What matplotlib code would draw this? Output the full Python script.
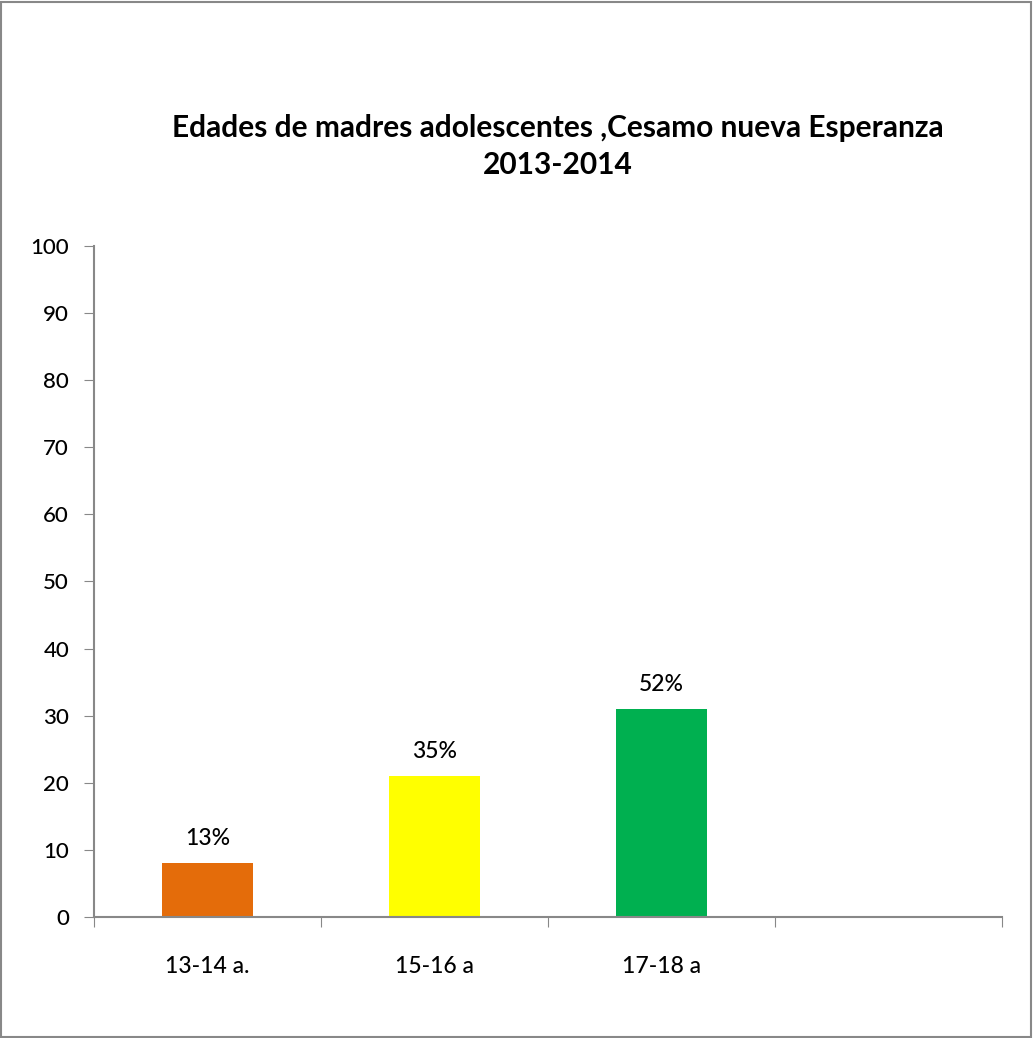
import matplotlib
matplotlib.use('Agg')
import matplotlib.pyplot as plt
from matplotlib.patches import Rectangle

# datos
categorias = ['13-14 a.', '15-16 a', '17-18 a', '']
valores = [8, 21, 31, 0]
etiquetas = ['13%', '35%', '52%', '']
colores = ['#E46C0A', '#FFFF00', '#00B050', 'none']
yticks = list(range(0, 101, 10))

plt.rcParams['font.family'] = ['Lato', 'DejaVu Sans']

fig = plt.figure(figsize=(10.33, 10.38), dpi=100)
ax = fig.add_axes([0.091, 0.1166, 0.879, 0.6464])

x = list(range(len(categorias)))
bars = ax.bar(x, valores, width=0.4, color=colores)

for xi, v, lab in zip(x, valores, etiquetas):
    if lab:
        ax.annotate(lab, (xi, v), xytext=(0, 10), textcoords='offset points',
                    ha='center', va='bottom', fontsize=16.5, fontweight='medium')

ax.set_xlim(-0.5, 3.5)
ax.set_ylim(0, 100)
ax.set_yticks(yticks)
ax.set_yticklabels([str(t) for t in yticks], fontsize=16, fontweight='medium')

# ticks entre categorias
ax.set_xticks([i - 0.5 for i in range(len(categorias) + 1)])
ax.set_xticklabels([])
ax.set_xticks(x, minor=True)
ax.set_xticklabels(categorias, minor=True, fontsize=16.5, fontweight='medium')
ax.tick_params(axis='x', which='minor', length=0, pad=28)
ax.tick_params(axis='x', which='major', length=7, color='#888888', direction='out')
ax.tick_params(axis='y', length=7, color='#888888', pad=11)

for s in ['top', 'right']:
    ax.spines[s].set_visible(False)
for s in ['left', 'bottom']:
    ax.spines[s].set_color('#888888')
    ax.spines[s].set_linewidth(1.5)

fig.text(0.54, 0.859, 'Edades de madres adolescentes ,Cesamo nueva Esperanza\n2013-2014',
         ha='center', va='center', fontsize=21.5, fontweight='bold', linespacing=1.38)

fig.patches.append(Rectangle((0.001, 0.001), 0.997, 0.997, transform=fig.transFigure,
                             fill=False, edgecolor='#888888', linewidth=1.5))

fig.savefig('out.png', dpi=100)
